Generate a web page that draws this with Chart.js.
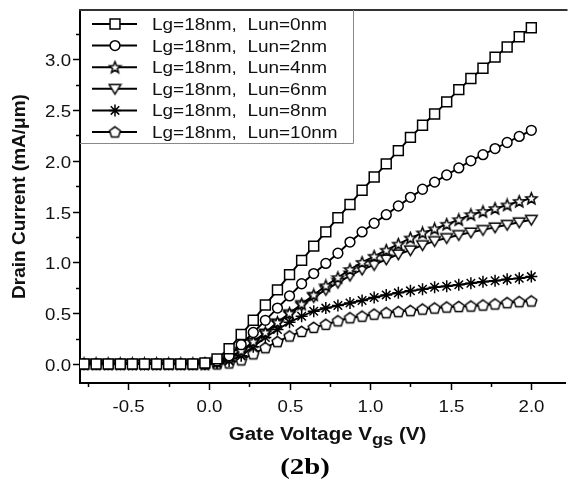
<!DOCTYPE html>
<html><head><meta charset="utf-8">
<script src="https://cdn.jsdelivr.net/npm/chart.js@4.4.1/dist/chart.umd.min.js"></script>
<style>html,body{margin:0;padding:0;background:#fff;}#wrap{width:574px;height:484px;}</style>
</head><body><div id="wrap"><canvas id="c" width="574" height="484"></canvas></div>
<script>
// ---- data ----
const vgs = [-0.775,-0.7,-0.625,-0.55,-0.475,-0.4,-0.325,-0.25,-0.175,-0.1,-0.025,0.05,0.125,0.2,0.275,0.35,0.425,0.5,0.575,0.65,0.725,0.8,0.875,0.95,1.025,1.1,1.175,1.25,1.325,1.4,1.475,1.55,1.625,1.7,1.775,1.85,1.925,2.0];
const lun0 = [0,0,0,0,0,0,0,0,0,0,0.01,0.05,0.15,0.29,0.43,0.58,0.73,0.88,1.02,1.16,1.30,1.44,1.57,1.71,1.84,1.97,2.10,2.23,2.35,2.46,2.58,2.70,2.81,2.91,3.02,3.12,3.22,3.31];
const lun2 = [0,0,0,0,0,0,0,0,0,0,0.01,0.03,0.08,0.19,0.31,0.43,0.55,0.67,0.79,0.89,0.99,1.09,1.20,1.30,1.385,1.47,1.555,1.64,1.72,1.79,1.86,1.93,2.00,2.06,2.12,2.18,2.24,2.30];
const lun4 = [0,0,0,0,0,0,0,0,0,0,0,0.02,0.06,0.13,0.22,0.31,0.41,0.50,0.59,0.68,0.77,0.85,0.93,1.00,1.06,1.12,1.18,1.24,1.29,1.33,1.375,1.42,1.47,1.50,1.53,1.565,1.60,1.63];
const lun6 = [0,0,0,0,0,0,0,0,0,0,0,0.02,0.06,0.12,0.21,0.30,0.40,0.49,0.58,0.66,0.73,0.80,0.87,0.93,0.975,1.03,1.08,1.12,1.17,1.21,1.24,1.27,1.295,1.32,1.345,1.37,1.395,1.42];
const lun8 = [0,0,0,0,0,0,0,0,0,0,0,0.01,0.03,0.08,0.17,0.26,0.34,0.41,0.47,0.52,0.55,0.575,0.60,0.625,0.655,0.68,0.70,0.72,0.735,0.755,0.765,0.78,0.795,0.81,0.82,0.833,0.843,0.86];
const lun10 = [0,0,0,0,0,0,0,0,0,0,0,0,0.01,0.04,0.10,0.16,0.22,0.275,0.32,0.36,0.39,0.425,0.455,0.47,0.49,0.505,0.515,0.525,0.54,0.55,0.56,0.565,0.57,0.58,0.59,0.603,0.613,0.62];
const seriesLabels = ['Lg=18nm,  Lun=0nm','Lg=18nm,  Lun=2nm','Lg=18nm,  Lun=4nm','Lg=18nm,  Lun=6nm','Lg=18nm,  Lun=8nm','Lg=18nm,  Lun=10nm'];
const xTicks = [-0.75,-0.5,-0.25,0,0.25,0.5,0.75,1.0,1.25,1.5,1.75,2.0];
const yTicks = [0,0.25,0.5,0.75,1.0,1.25,1.5,1.75,2.0,2.25,2.5,2.75,3.0,3.25];
const xTitle = ['Gate Voltage V','gs',' (V)'];
const yTitle = 'Drain Current (mA/\u03bcm)';
const caption = '(2b)';

// ---- markers ----
function makeMarker(kind){
  const c = document.createElement('canvas'); c.width = 15; c.height = 15;
  const g = c.getContext('2d'); const cx = 7.5, cy = 7.5;
  g.beginPath();
  if (kind === 'star5'){
    for (let k=0;k<10;k++){ const r = k%2===0?6:2.6; const a = -Math.PI/2 + k*Math.PI/5;
      const px = cx + r*Math.cos(a), py = cy + 0.4 + r*Math.sin(a); k?g.lineTo(px,py):g.moveTo(px,py);} 
  } else if (kind === 'tridown'){
    g.moveTo(cx-5.8, cy-4.2); g.lineTo(cx+5.8, cy-4.2); g.lineTo(cx, cy+5.4);
  } else if (kind === 'pent'){
    for (let k=0;k<5;k++){ const a = -Math.PI/2 + k*2*Math.PI/5; const px = cx + 5.7*Math.cos(a), py = cy + 0.5 + 5.7*Math.sin(a); k?g.lineTo(px,py):g.moveTo(px,py);} 
  }
  g.closePath(); g.fillStyle = '#fff'; g.fill(); g.lineWidth = 1.5; g.strokeStyle = '#000'; g.stroke();
  return c;
}
const styles = ['rect','circle',makeMarker('star5'),makeMarker('tridown'),'star',makeMarker('pent')];
const radii = [7.0,4.9,5,5,6,5];
const series = [lun0,lun2,lun4,lun6,lun8,lun10];

const datasets = series.map((s,i)=>({
  label: seriesLabels[i],
  data: vgs.map((x,j)=>({x:x,y:s[j]})),
  borderColor:'#000', borderWidth:1.9, backgroundColor:'#fff',
  pointStyle: styles[i], pointRadius: radii[i], pointBorderWidth:1.5,
  pointBorderColor:'#000', pointBackgroundColor:'#fff', tension:0
}));

const SANS = '"Liberation Sans", Arial, sans-serif';
function sText(ctx, txt, x, y, font, sx, align){
  ctx.save(); ctx.font = font; const w = ctx.measureText(txt).width*sx;
  const x0 = align==='center' ? x-w/2 : (align==='right' ? x-w : x);
  ctx.translate(x0,y); ctx.scale(sx,1); ctx.textAlign='left'; ctx.textBaseline='alphabetic';
  ctx.fillText(txt,0,0); ctx.restore(); return w;
}
function tw(ctx, txt, font, sx){ ctx.save(); ctx.font=font; const w=ctx.measureText(txt).width*sx; ctx.restore(); return w; }

function drawMarker(ctx, st, r, x, y){
  ctx.save(); ctx.strokeStyle='#000'; ctx.fillStyle='#fff'; ctx.lineWidth=1.5;
  if (typeof st !== 'string'){ ctx.drawImage(st, x-st.width/2, y-st.height/2); }
  else if (st==='rect'){ const s=Math.SQRT1_2*r; ctx.beginPath(); ctx.rect(x-s,y-s,2*s,2*s); ctx.fill(); ctx.stroke(); }
  else if (st==='circle'){ ctx.beginPath(); ctx.arc(x,y,r,0,Math.PI*2); ctx.fill(); ctx.stroke(); }
  else if (st==='star'){ ctx.beginPath(); for (let k=0;k<4;k++){ const a=k*Math.PI/4; ctx.moveTo(x-r*Math.cos(a),y-r*Math.sin(a)); ctx.lineTo(x+r*Math.cos(a),y+r*Math.sin(a)); } ctx.stroke(); }
  ctx.restore();
}

const deco = {
  id:'deco',
  afterDraw(chart){
    const ctx = chart.ctx, xs = chart.scales.x, ys = chart.scales.y, ca = chart.chartArea;
    ctx.save();
    // top frame
    ctx.strokeStyle='#333'; ctx.lineWidth=2; ctx.beginPath(); ctx.moveTo(ca.left-1, ca.top); ctx.lineTo(ca.right+2, ca.top); ctx.stroke();
    // ticks
    ctx.strokeStyle='#000'; ctx.lineWidth=1.5; ctx.fillStyle='#111';
    const isMaj = v => Math.abs(v*2-Math.round(v*2))<1e-6;
    xTicks.forEach(v=>{ const px=Math.round(xs.getPixelForValue(v))+0.5; const L=isMaj(v)?7:4;
      ctx.beginPath(); ctx.moveTo(px,ca.bottom); ctx.lineTo(px,ca.bottom+L); ctx.stroke();
      if (isMaj(v)) sText(ctx, v.toFixed(1), px, ca.bottom+29, '16.5px '+SANS, 1.13, 'center'); });
    yTicks.forEach(v=>{ const py=Math.round(ys.getPixelForValue(v))+0.5; const L=isMaj(v)?7:4;
      ctx.beginPath(); ctx.moveTo(ca.left,py); ctx.lineTo(ca.left-L,py); ctx.stroke();
      if (isMaj(v)) sText(ctx, v.toFixed(1), ca.left-9, py+6, '16.5px '+SANS, 1.13, 'right'); });
    // legend box
    ctx.fillStyle='#fff'; ctx.fillRect(ca.left+1, ca.top+1, 272, 132);
    ctx.strokeStyle='#888'; ctx.lineWidth=1; ctx.beginPath(); ctx.moveTo(ca.left, ca.top+133.5); ctx.lineTo(ca.left+273.5, ca.top+133.5); ctx.lineTo(ca.left+273.5, ca.top); ctx.stroke();
    chart.data.datasets.forEach((d,i)=>{
      const y = ca.top + 14 + i*21.6;
      ctx.strokeStyle='#000'; ctx.lineWidth=2; ctx.beginPath(); ctx.moveTo(ca.left+12,y); ctx.lineTo(ca.left+57,y); ctx.stroke();
      drawMarker(ctx, d.pointStyle, d.pointRadius, ca.left+35, y);
      ctx.fillStyle='#111'; sText(ctx, d.label, ca.left+72, y+6, '16px '+SANS, 1.185, 'left');
    });
    // x title with subscript
    const f1='bold 18px '+SANS, f2='bold 16px '+SANS, sx=1.14;
    const w = tw(ctx,xTitle[0],f1,sx)+tw(ctx,xTitle[1],f2,sx)+tw(ctx,xTitle[2],f1,sx);
    let x0 = 327.5 - w/2; ctx.fillStyle='#111';
    x0 += sText(ctx,xTitle[0],x0,440,f1,sx,'left');
    x0 += sText(ctx,xTitle[1],x0,445,f2,sx,'left');
    sText(ctx,xTitle[2],x0,440,f1,sx,'left');
    // y title
    ctx.save(); ctx.translate(25, (ca.top+ca.bottom)/2); ctx.rotate(-Math.PI/2);
    ctx.font='bold 19px '+SANS; ctx.textAlign='center'; ctx.textBaseline='alphabetic'; ctx.fillStyle='#111';
    ctx.fillText(yTitle,0,0); ctx.restore();
    // caption
    ctx.fillStyle='#000'; sText(ctx, caption, 305, 474, 'bold 23px "Liberation Serif", "Times New Roman", serif', 1.25, 'center');
    ctx.restore();
  }
};

new Chart(document.getElementById('c'), {
  type:'line',
  data:{ datasets: datasets },
  options:{
    responsive:false, animation:false, devicePixelRatio:1,
    layout:{ padding:{ top:10, right:0, left:0, bottom:0 } },
    plugins:{ legend:{display:false}, tooltip:{enabled:false} },
    scales:{
      x:{ type:'linear', min:-0.8, max:2.212,
          afterBuildTicks: s=>{ s.ticks = xTicks.map(v=>({value:v})); },
          afterFit: s=>{ s.height = 101; },
          ticks:{display:false}, grid:{display:false, drawTicks:false},
          border:{display:true, color:'#000', width:2} },
      y:{ type:'linear', min:-0.187, max:3.484,
          afterBuildTicks: s=>{ s.ticks = yTicks.map(v=>({value:v})); },
          afterFit: s=>{ s.width = 80; },
          ticks:{display:false}, grid:{display:false, drawTicks:false},
          border:{display:true, color:'#000', width:2} }
    }
  },
  plugins:[deco]
});
</script>
</body></html>
